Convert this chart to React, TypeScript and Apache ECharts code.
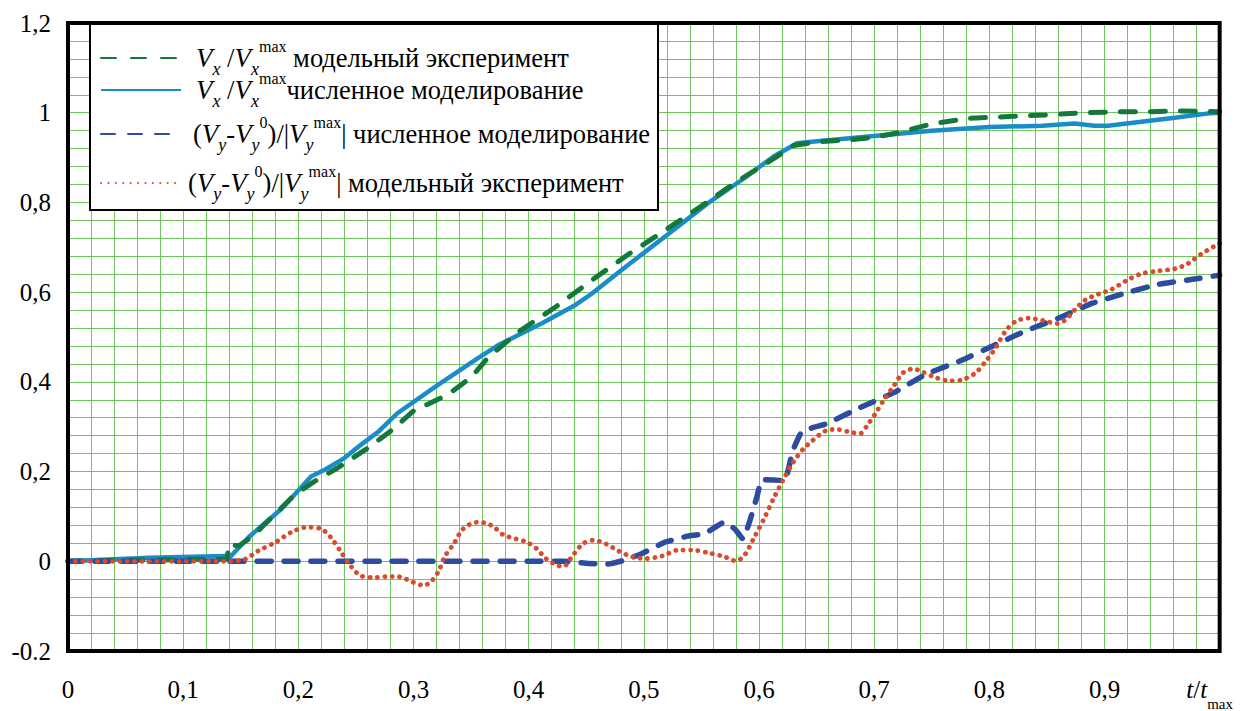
import { useEffect, useRef } from 'react';
import * as echarts from 'echarts';

const F = 'Liberation Serif';

// Vx/Vx^max — model experiment (green dashed)
const vxExperiment: [number, number][] = [
  [0, 0.0], [0.05, 0.002], [0.1, 0.004], [0.138, 0.005], [0.14, 0.038], [0.148, 0.034],
  [0.16, 0.055], [0.171, 0.083], [0.185, 0.118], [0.197, 0.149], [0.214, 0.178],
  [0.234, 0.208], [0.26, 0.252], [0.28, 0.29], [0.3, 0.335], [0.33, 0.372],
  [0.35, 0.41], [0.365, 0.455], [0.392, 0.513], [0.424, 0.568], [0.455, 0.627],
  [0.487, 0.685], [0.518, 0.737], [0.55, 0.792], [0.579, 0.843], [0.613, 0.898],
  [0.63, 0.927], [0.65, 0.935], [0.68, 0.94], [0.7, 0.945], [0.72, 0.955],
  [0.75, 0.975], [0.78, 0.987], [0.82, 0.992], [0.848, 0.995], [0.883, 1.0],
  [0.912, 1.002], [0.938, 1.002], [0.966, 1.004], [1.0, 1.002],
];

// Vx/Vx^max — numerical simulation (blue solid)
const vxNumerical: [number, number][] = [
  [0, 0], [0.07, 0.008], [0.137, 0.012], [0.141, 0.01], [0.157, 0.054], [0.185, 0.116],
  [0.2, 0.158], [0.211, 0.189], [0.223, 0.204], [0.24, 0.23], [0.254, 0.259],
  [0.27, 0.29], [0.286, 0.33], [0.32, 0.391], [0.355, 0.451], [0.375, 0.484],
  [0.412, 0.531], [0.441, 0.572], [0.455, 0.597], [0.484, 0.656], [0.521, 0.729],
  [0.556, 0.799], [0.585, 0.85], [0.613, 0.903], [0.633, 0.932], [0.648, 0.936],
  [0.7, 0.948], [0.75, 0.96], [0.8, 0.968], [0.846, 0.971], [0.874, 0.976],
  [0.891, 0.971], [0.903, 0.971], [0.932, 0.98], [0.961, 0.989], [0.989, 0.998], [1.0, 1.0],
];

// (Vy-Vy0)/|Vy^max| — numerical simulation (navy dashed)
const vyNumerical: [number, number][] = [
  [0, 0], [0.1, 0], [0.2, 0], [0.3, 0], [0.4, 0], [0.43, 0], [0.452, -0.005],
  [0.469, -0.006], [0.484, 0.003], [0.498, 0.017], [0.518, 0.042], [0.538, 0.056],
  [0.553, 0.062], [0.57, 0.087], [0.579, 0.072], [0.586, 0.05], [0.592, 0.09],
  [0.598, 0.142], [0.603, 0.182], [0.622, 0.18], [0.629, 0.244], [0.637, 0.288],
  [0.648, 0.299], [0.659, 0.307], [0.688, 0.343], [0.717, 0.376], [0.745, 0.417],
  [0.774, 0.446], [0.803, 0.48], [0.831, 0.513], [0.86, 0.542], [0.889, 0.575],
  [0.917, 0.597], [0.946, 0.617], [0.975, 0.628], [1.0, 0.638],
];

// (Vy-Vy0)/|Vy^max| — model experiment (red dotted)
const vyExperiment: [number, number][] = [
  [0, 0], [0.05, 0], [0.1, 0], [0.141, 0], [0.154, 0.005], [0.165, 0.023], [0.18, 0.042],
  [0.194, 0.065], [0.208, 0.076], [0.22, 0.072], [0.228, 0.054], [0.237, 0.021],
  [0.246, -0.012], [0.254, -0.032], [0.266, -0.036], [0.277, -0.034], [0.286, -0.034],
  [0.293, -0.039], [0.3, -0.047], [0.309, -0.054], [0.316, -0.043], [0.322, -0.021],
  [0.327, 0.01], [0.335, 0.039], [0.343, 0.072], [0.355, 0.087], [0.363, 0.085],
  [0.37, 0.076], [0.378, 0.059], [0.389, 0.05], [0.398, 0.043], [0.407, 0.028],
  [0.415, 0.006], [0.424, -0.008], [0.43, -0.012], [0.438, 0.012], [0.447, 0.039],
  [0.456, 0.047], [0.467, 0.039], [0.478, 0.023], [0.49, 0.01], [0.501, 0.006],
  [0.516, 0.012], [0.53, 0.025], [0.542, 0.025], [0.556, 0.019], [0.57, 0.01],
  [0.58, 0.001], [0.587, 0.012], [0.596, 0.054], [0.605, 0.098], [0.613, 0.142],
  [0.622, 0.186], [0.63, 0.222], [0.639, 0.252], [0.646, 0.268], [0.652, 0.281],
  [0.659, 0.292], [0.668, 0.294], [0.679, 0.288], [0.688, 0.285], [0.694, 0.303],
  [0.701, 0.329], [0.708, 0.358], [0.717, 0.391], [0.725, 0.42], [0.734, 0.429],
  [0.742, 0.422], [0.754, 0.409], [0.766, 0.402], [0.777, 0.405], [0.788, 0.42],
  [0.797, 0.446], [0.805, 0.474], [0.814, 0.513], [0.823, 0.535], [0.834, 0.542],
  [0.846, 0.537], [0.859, 0.53], [0.866, 0.538], [0.874, 0.56], [0.883, 0.582],
  [0.895, 0.596], [0.906, 0.606], [0.92, 0.627], [0.932, 0.641], [0.946, 0.647],
  [0.961, 0.652], [0.972, 0.663], [0.984, 0.685], [1.0, 0.709],
];

const seriesNames = ['vxExperiment', 'vxNumerical', 'vyNumerical', 'vyExperiment'];
const legendLabels = [
  '{g| }{v|V}{sub|x}{n| /}{v|V}{sub|x}{sup|max}{n| модельный эксперимент}',
  '{g| }{v|V}{sub|x}{n| /}{v|V}{sub|x}{sup|max}{n|численное моделирование}',
  '{g3| }{n|(}{v|V}{sub|y}{n|-}{v|V}{sub|y}{sup|0}{n|)/|}{v|V}{sub|y}{sup|max}{n|| численное моделирование}',
  '{g4| }{n|(}{v|V}{sub|y}{n|-}{v|V}{sub|y}{sup|0}{n|)/|}{v|V}{sub|y}{sup|max}{n|| модельный эксперимент}',
];
const legendTops = [38, 70, 114, 163];

const GREEN = '#14783c';
const BLUE = '#1a8cc8';
const NAVY = '#2d4ba0';
const RED = '#d84b2d';
const GRID = '#72c45e';

const rich: any = {
  g: { width: 10, fontSize: 10, lineHeight: 40 },
  g3: { width: 7, fontSize: 10, lineHeight: 40 },
  g4: { width: 2, fontSize: 10, lineHeight: 40 },
  n: { fontSize: 26.5, fontFamily: F, color: '#000', lineHeight: 40 },
  v: { fontSize: 27, fontFamily: F, fontStyle: 'italic', color: '#000', lineHeight: 40 },
  sub: { fontSize: 18, fontFamily: F, fontStyle: 'italic', color: '#000', lineHeight: 14, verticalAlign: 'bottom' },
  sup: { fontSize: 16, fontFamily: F, color: '#000', lineHeight: 24, verticalAlign: 'top' },
};

function fmt1(v: number) {
  return (Math.round(v * 10) / 10);
}

export default function App() {
  const ref = useRef<HTMLDivElement>(null);
  useEffect(() => {
    const chart = echarts.init(ref.current!, null, { renderer: 'svg' });
    const gridLine = { show: true, lineStyle: { color: GRID, width: 1 } };
    chart.setOption({
      animation: false,
      backgroundColor: '#fff',
      textStyle: { fontFamily: F },
      grid: {
        left: 68, right: 27, top: 23, bottom: 54,
        show: true, borderColor: '#000', borderWidth: 4, z: 10,
      },
      xAxis: {
        type: 'value', min: 0, max: 1, interval: 0.1,
        axisLine: { show: false }, axisTick: { show: false },
        splitLine: gridLine, minorTick: { show: false, splitNumber: 5 }, minorSplitLine: gridLine,
        axisLabel: {
          margin: 26, fontSize: 25, fontFamily: F, color: '#000',
          formatter: (v: number) => {
            const r = fmt1(v);
            if (r === 0) return '0';
            if (r === 1) return '{it|t}{n|/}{it|t}{sub|max}';
            return r.toFixed(1).replace('.', ',');
          },
          rich: {
            it: { fontSize: 25, fontFamily: F, fontStyle: 'italic', color: '#000', lineHeight: 34, verticalAlign: 'top' },
            n: { fontSize: 25, fontFamily: F, color: '#000', lineHeight: 34, verticalAlign: 'top' },
            sub: { fontSize: 15, fontFamily: F, color: '#000', lineHeight: 25, verticalAlign: 'bottom', padding: [0, 20, 0, 0] },
          },
        },
      },
      yAxis: {
        type: 'value', min: -0.2, max: 1.2, interval: 0.2,
        axisLine: { show: false }, axisTick: { show: false },
        splitLine: gridLine, minorTick: { show: false, splitNumber: 5 }, minorSplitLine: gridLine,
        axisLabel: {
          margin: 17, fontSize: 25, fontFamily: F, color: '#000',
          formatter: (v: number) => {
            const r = fmt1(v);
            if (r === 0) return '0';
            if (r === 1) return '1';
            if (r < 0) return r.toFixed(1);
            return r.toFixed(1).replace('.', ',');
          },
        },
      },
      legend: seriesNames.map((name, i) => ({
        data: [name], left: 100, top: legendTops[i], orient: 'vertical', padding: 0,
        itemWidth: 80, itemHeight: 4, itemGap: 0, selectedMode: false,
        itemStyle: { opacity: 0 },
        formatter: () => legendLabels[i],
        textStyle: { rich, color: '#000', fontFamily: F, fontSize: 26 },
      })),
      graphic: {
        elements: [
          { type: 'rect', z: 3, shape: { x: 90, y: 24, width: 568, height: 186 }, style: { fill: '#fff', stroke: '#000', lineWidth: 2 } },
        ],
      },
      series: [
        {
          name: seriesNames[1], type: 'line', data: vxNumerical, symbol: 'none', z: 2,
          lineStyle: { color: BLUE, width: 4.5 }, itemStyle: { color: BLUE },
        },
        {
          name: seriesNames[0], type: 'line', data: vxExperiment, symbol: 'none', z: 2,
          lineStyle: { color: GREEN, width: 5, type: [15, 15], cap: 'round' }, itemStyle: { color: GREEN },
        },
        {
          name: seriesNames[2], type: 'line', data: vyNumerical, symbol: 'none', z: 2, smooth: 0.15,
          lineStyle: { color: NAVY, width: 5.5, type: [14, 13], cap: 'round' }, itemStyle: { color: NAVY },
        },
        {
          name: seriesNames[3], type: 'line', data: vyExperiment, symbol: 'none', z: 2, smooth: 0.3,
          lineStyle: { color: RED, width: 4.8, type: [0.1, 7.3], cap: 'round' }, itemStyle: { color: RED },
        },
      ],
    });
    return () => chart.dispose();
  }, []);
  return <div ref={ref} style={{ position: 'fixed', left: 0, top: 0, width: 1256, height: 711, background: '#fff' }} />;
}
